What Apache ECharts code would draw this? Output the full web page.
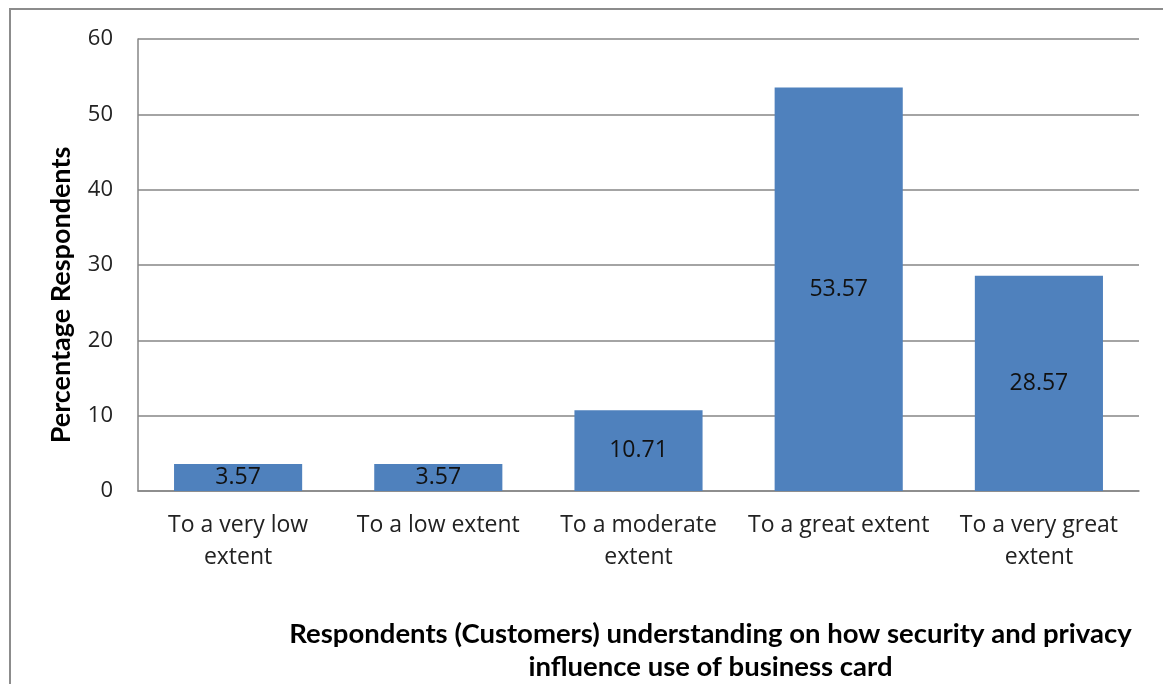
<!DOCTYPE html>
<html>
<head>
<meta charset="utf-8">
<script src="https://cdn.jsdelivr.net/npm/echarts@6/dist/echarts.min.js"></script>
<style>
  html, body { margin: 0; padding: 0; background: #fff; overflow: hidden;
               width: 1163px; height: 684px; }
  #frame { position: absolute; left: 9px; top: 8px; width: 1152px; height: 674px;
           border-left: 2px solid #8c8c8c; border-top: 2px solid #8c8c8c; }
  #chart { position: absolute; left: 0; top: 0; width: 1163px; height: 684px; }
</style>
</head>
<body>
<div id="frame"></div>
<div id="chart"></div>
<script>
// Survey responses: share of customers per level of understanding
const categories = [
  'To a very low\nextent',
  'To a low extent',
  'To a moderate\nextent',
  'To a great extent',
  'To a very great\nextent'
];
const percentages = [3.57, 3.57, 10.71, 53.57, 28.57];
const yTicks = { min: 0, max: 60, interval: 10 };

const chart = echarts.init(document.getElementById('chart'), null, { renderer: 'canvas' });

chart.setOption({
  animation: false,
  grid: { left: 138, right: 24, top: 39, bottom: 193, outerBoundsMode: 'none' },
  xAxis: {
    type: 'category',
    data: categories,
    axisLine: { lineStyle: { color: '#868686', width: 1.5 } },
    axisTick: { show: false },
    axisLabel: {
      color: '#222',
      fontFamily: 'Open Sans',
      fontSize: 23,
      lineHeight: 32,
      margin: 18,
      interval: 0
    },
    name: 'Respondents (Customers) understanding on how security and privacy\ninfluence use of business card',
    nameLocation: 'middle',
    nameGap: 127,
    nameTextStyle: {
      color: '#000',
      fontFamily: 'Lato',
      fontWeight: 'bold',
      fontSize: 27.5,
      lineHeight: 33,
      align: 'center',
      padding: [0, 0, 0, 144]
    }
  },
  yAxis: {
    type: 'value',
    min: yTicks.min,
    max: yTicks.max,
    interval: yTicks.interval,
    axisLine: { show: true, lineStyle: { color: '#868686', width: 1.5 } },
    axisTick: { show: false },
    splitLine: { lineStyle: { color: '#868686', width: 1.5 } },
    axisLabel: {
      color: '#222',
      fontFamily: 'Open Sans',
      fontSize: 22,
      margin: 25
    },
    name: 'Percentage Respondents',
    nameLocation: 'middle',
    nameGap: 63,
    nameTextStyle: {
      color: '#000',
      fontFamily: 'Lato',
      fontWeight: 'bold',
      fontSize: 27,
      padding: [0, 60, 0, 0]
    }
  },
  series: [{
    type: 'bar',
    data: percentages,
    barCategoryGap: '36%',
    itemStyle: { color: '#4F81BD' },
    label: {
      show: true,
      position: 'inside',
      color: '#111',
      fontFamily: 'Open Sans',
      fontSize: 23,
      formatter: p => p.value.toFixed(2)
    }
  }]
});
</script>
</body>
</html>
